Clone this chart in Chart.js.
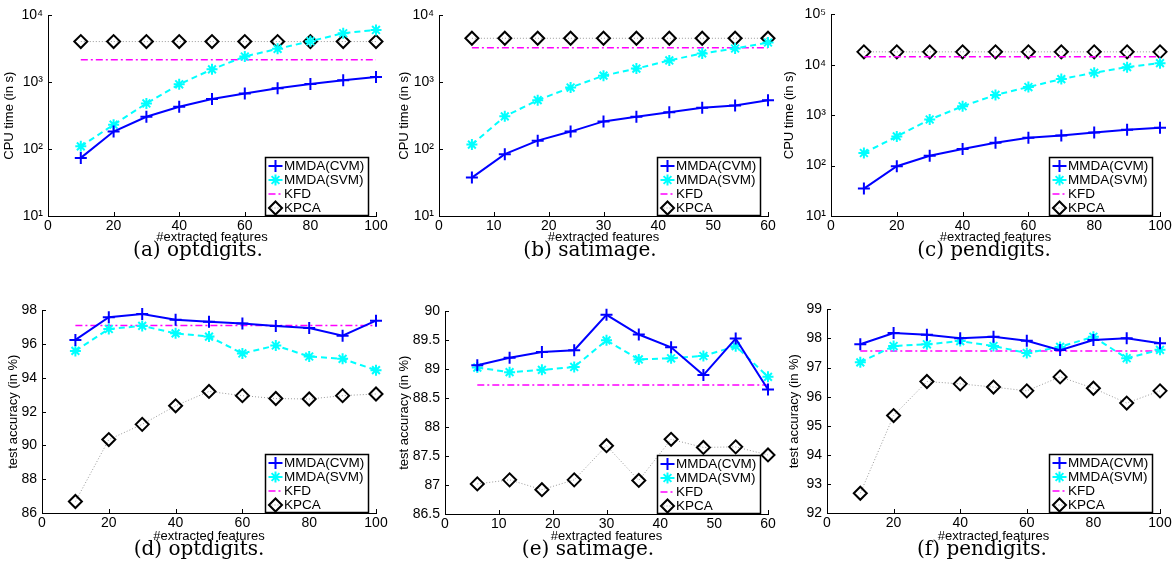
<!DOCTYPE html>
<html>
<head>
<meta charset="utf-8">
<script src="https://cdn.jsdelivr.net/npm/chart.js@4.4.0/dist/chart.umd.min.js"></script>
<style>
  body { margin: 0; background: #fff; width: 1174px; height: 567px; position: relative; overflow: hidden; }
  canvas { position: absolute; }
  .cap { position: absolute; font-family: "DejaVu Serif", serif; font-size: 20px; line-height: 1;
         transform: translate(-50%, -50%); white-space: nowrap; color: #000; }
</style>
</head>
<body>
<script>
'use strict';

// x values (#extracted features)
var featOpt = [10, 20, 30, 40, 50, 60, 70, 80, 90, 100];
var featSat = [6, 12, 18, 24, 30, 36, 42, 48, 54, 60];
var featPen = [10, 20, 30, 40, 50, 60, 70, 80, 90, 100];

// CPU time (in s)
var cpuOptCvm  = [74, 183, 305, 430, 560, 680, 815, 945, 1070, 1200];
var cpuOptSvm  = [110, 232, 482, 933, 1560, 2430, 3160, 4110, 5410, 6060];
var cpuOptKfd  = [2170, 2170, 2170, 2170, 2170, 2170, 2170, 2170, 2170, 2170];
var cpuOptKpca = [4060, 4060, 4060, 4060, 4060, 4060, 4060, 4060, 4060, 4060];

var cpuSatCvm  = [37.5, 84, 134, 183, 260, 305, 355, 416, 450, 540];
var cpuSatSvm  = [117, 309, 540, 834, 1256, 1600, 2120, 2700, 3200, 3930];
var cpuSatKfd  = [3275, 3275, 3275, 3275, 3275, 3275, 3275, 3275, 3275, 3275];
var cpuSatKpca = [4550, 4550, 4550, 4550, 4550, 4550, 4550, 4550, 4550, 4550];

var cpuPenCvm  = [35, 97, 157, 213, 284, 357, 397, 455, 514, 562];
var cpuPenSvm  = [178, 379, 821, 1505, 2520, 3620, 5210, 6950, 8990, 10790];
var cpuPenKfd  = [14380, 14380, 14380, 14380, 14380, 14380, 14380, 14380, 14380, 14380];
var cpuPenKpca = [18070, 18070, 18070, 18070, 18070, 18070, 18070, 18070, 18070, 18070];

// test accuracy (in %)
var accOptCvm  = [96.25, 97.6, 97.78, 97.45, 97.33, 97.23, 97.08, 96.96, 96.5, 97.39];
var accOptSvm  = [95.6, 96.9, 97.08, 96.64, 96.45, 95.45, 95.92, 95.27, 95.13, 94.46];
var accOptKfd  = [97.1, 97.1, 97.1, 97.1, 97.1, 97.1, 97.1, 97.1, 97.1, 97.1];
var accOptKpca = [86.68, 90.35, 91.25, 92.35, 93.2, 92.95, 92.78, 92.75, 92.95, 93.05];

var accSatCvm  = [89.07, 89.2, 89.3, 89.33, 89.94, 89.6, 89.38, 88.9, 89.53, 88.65];
var accSatSvm  = [89.03, 88.95, 88.99, 89.04, 89.5, 89.17, 89.19, 89.23, 89.4, 88.87];
var accSatKfd  = [88.73, 88.73, 88.73, 88.73, 88.73, 88.73, 88.73, 88.73, 88.73, 88.73];
var accSatKpca = [87.02, 87.09, 86.92, 87.09, 87.68, 87.08, 87.79, 87.65, 87.66, 87.52];

var accPenCvm  = [97.8, 98.19, 98.13, 98.01, 98.06, 97.92, 97.6, 97.95, 98.01, 97.84];
var accPenSvm  = [97.18, 97.74, 97.8, 97.91, 97.74, 97.5, 97.71, 98.06, 97.32, 97.61];
var accPenKfd  = [97.57, 97.57, 97.57, 97.57, 97.57, 97.57, 97.57, 97.57, 97.57, 97.57];
var accPenKpca = [92.68, 95.35, 96.52, 96.44, 96.33, 96.2, 96.68, 96.29, 95.78, 96.2];

var seriesNames = ['MMDA(CVM)', 'MMDA(SVM)', 'KFD', 'KPCA'];

var SANS = '"Liberation Sans", Arial, sans-serif';
var SUP = ['\u2070', '\u00b9', '\u00b2', '\u00b3', '\u2074', '\u2075'];

Chart.defaults.font.family = SANS;
Chart.defaults.color = '#000';

// small marker drawing, used for the boxed legend
function drawMarker(ctx, style, x, y, r) {
  ctx.beginPath();
  if (style === 'cross' || style === 'star') {
    ctx.moveTo(x - r, y); ctx.lineTo(x + r, y);
    ctx.moveTo(x, y - r); ctx.lineTo(x, y + r);
    if (style === 'star') {
      var d = r * 0.707;
      ctx.moveTo(x - d, y - d); ctx.lineTo(x + d, y + d);
      ctx.moveTo(x - d, y + d); ctx.lineTo(x + d, y - d);
    }
  } else if (style === 'rectRot') {
    ctx.moveTo(x - r, y); ctx.lineTo(x, y - r); ctx.lineTo(x + r, y); ctx.lineTo(x, y + r);
    ctx.closePath();
  }
  ctx.stroke();
}

// matlab style ticks pointing into the axes
var innerTicks = {
  id: 'innerTicks',
  afterDraw: function (chart) {
    var ctx = chart.ctx, a = chart.chartArea, xs = chart.scales.x, ys = chart.scales.y;
    ctx.save();
    ctx.strokeStyle = '#000';
    ctx.lineWidth = 1;
    ctx.beginPath();
    xs.ticks.forEach(function (t) {
      var px = Math.round(xs.getPixelForValue(t.value)) + 0.5;
      ctx.moveTo(px, a.bottom); ctx.lineTo(px, a.bottom - 4);
    });
    ys.ticks.forEach(function (t) {
      var py = Math.round(ys.getPixelForValue(t.value)) + 0.5;
      ctx.moveTo(a.left, py); ctx.lineTo(a.left + 4, py);
    });
    ctx.stroke();
    ctx.restore();
  }
};

// legend box sitting in the lower right corner of the plot
var boxLegend = {
  id: 'boxLegend',
  afterDraw: function (chart) {
    var ctx = chart.ctx, a = chart.chartArea;
    var w = 103, h = 58;
    var bx = Math.round(a.right - 8 - w) + 0.5, by = Math.round(a.bottom - 1 - h) + 0.5;
    ctx.save();
    ctx.fillStyle = '#fff';
    ctx.fillRect(bx, by, w, h);
    ctx.strokeStyle = '#000';
    ctx.lineWidth = 1.5;
    ctx.strokeRect(bx, by, w, h);
    chart.data.datasets.forEach(function (ds, i) {
      var cy = by + 8.5 + i * 14;
      ctx.strokeStyle = ds.borderColor;
      ctx.lineWidth = ds.borderWidth;
      ctx.setLineDash(ds.borderDash || []);
      ctx.beginPath();
      ctx.moveTo(bx + 3, cy); ctx.lineTo(bx + 17, cy);
      ctx.stroke();
      ctx.setLineDash([]);
      if (ds.pointRadius > 0) {
        ctx.strokeStyle = ds.pointBorderColor;
        ctx.lineWidth = ds.pointBorderWidth;
        drawMarker(ctx, ds.pointStyle, bx + 10, cy, ds.pointRadius);
      }
      ctx.fillStyle = '#000';
      ctx.font = '13.5px ' + SANS;
      ctx.textBaseline = 'middle';
      ctx.textAlign = 'left';
      ctx.fillText(ds.label, bx + 18.5, cy + 0.5);
    });
    ctx.restore();
  }
};

function makeSets(xs, cvm, svm, kfd, kpca) {
  function pts(ys) { return xs.map(function (x, i) { return { x: x, y: ys[i] }; }); }
  return [
    { label: seriesNames[0], data: pts(cvm), borderColor: '#0000ff', borderWidth: 2,
      pointStyle: 'cross', pointRadius: 6, pointBorderWidth: 2, pointBorderColor: '#0000ff' },
    { label: seriesNames[1], data: pts(svm), borderColor: '#00ffff', borderWidth: 2, borderDash: [6, 4],
      pointStyle: 'star', pointRadius: 5.5, pointBorderWidth: 2, pointBorderColor: '#00ffff' },
    { label: seriesNames[2], data: pts(kfd), borderColor: '#ff00ff', borderWidth: 1.5, borderDash: [7, 3, 2, 3],
      pointRadius: 0 },
    { label: seriesNames[3], data: pts(kpca), borderColor: '#999999', borderWidth: 1, borderDash: [1, 2],
      pointStyle: 'rectRot', pointRadius: 6.5, pointBorderWidth: 2, pointBorderColor: '#000',
      pointBackgroundColor: 'rgba(0,0,0,0)' }
  ];
}

// one panel: area = plot area [left, top, right, bottom] in page pixels
function panel(area, titleX, xTitleGap, xAxis, yAxis, yTitle, sets, caption, capPos) {
  var padTop = 12, padRight = 20;
  var left = titleX - 8, top = area[1] - padTop;
  var width = area[2] + padRight - left;
  var height = area[3] + xTitleGap + 8 - top;
  var cv = document.createElement('canvas');
  cv.width = width; cv.height = height;
  cv.style.left = left + 'px'; cv.style.top = top + 'px';
  document.body.appendChild(cv);

  var yWidth = area[0] - left;
  var xHeight = xTitleGap + 8;

  var yScale = {
    type: yAxis.log ? 'logarithmic' : 'linear',
    min: yAxis.min, max: yAxis.max,
    grid: { display: false, drawTicks: false },
    border: { display: true, color: '#000', width: 1 },
    ticks: { font: { size: 14 }, padding: 5, color: '#000' },
    title: { display: true, text: yTitle, font: { size: 13 }, padding: 0, color: '#000' },
    afterFit: function (s) { s.width = yWidth; }
  };
  if (yAxis.log) {
    yScale.afterBuildTicks = function (s) {
      s.ticks = yAxis.ticks.map(function (v) { return { value: v }; });
    };
    yScale.ticks.callback = function (v) { return '10' + SUP[Math.round(Math.log10(v))]; };
  } else {
    yScale.ticks.stepSize = yAxis.step;
    yScale.ticks.callback = function (v) { return String(Math.round(v * 10) / 10); };
  }

  sets.forEach(function (ds) { ds.clip = false; ds.tension = 0; });

  new Chart(cv, {
    type: 'line',
    data: { datasets: sets },
    options: {
      responsive: false,
      animation: false,
      layout: { autoPadding: false, padding: { top: padTop, right: padRight, left: 0, bottom: 0 } },
      plugins: { legend: { display: false }, tooltip: { enabled: false } },
      scales: {
        x: {
          type: 'linear', min: xAxis.min, max: xAxis.max,
          grid: { display: false, drawTicks: false },
          border: { display: true, color: '#000', width: 1 },
          ticks: { stepSize: xAxis.step, font: { size: 14 }, padding: 2, color: '#000', maxRotation: 0 },
          title: { display: true, text: '#extracted features', font: { size: 13 }, padding: 0, color: '#000' },
          afterFit: function (s) { s.height = xHeight; }
        },
        y: yScale
      }
    },
    plugins: [innerTicks, boxLegend]
  });

  var cap = document.createElement('div');
  cap.className = 'cap';
  cap.textContent = caption;
  cap.style.left = capPos[0] + 'px';
  cap.style.top = capPos[1] + 'px';
  document.body.appendChild(cap);
}

var x100 = { min: 0, max: 100, step: 20 };
var x60 = { min: 0, max: 60, step: 10 };

panel([48, 14, 376, 216], 10, 21, x100,
  { log: true, min: 10, max: 10000, ticks: [10, 100, 1000, 10000] }, 'CPU time (in s)',
  makeSets(featOpt, cpuOptCvm, cpuOptSvm, cpuOptKfd, cpuOptKpca), '(a) optdigits.', [198, 249]);

panel([439, 14, 768, 216], 405, 21, x60,
  { log: true, min: 10, max: 10000, ticks: [10, 100, 1000, 10000] }, 'CPU time (in s)',
  makeSets(featSat, cpuSatCvm, cpuSatSvm, cpuSatKfd, cpuSatKpca), '(b) satimage.', [590, 249]);

panel([831, 13, 1160, 216], 790, 21, x100,
  { log: true, min: 10, max: 100000, ticks: [10, 100, 1000, 10000, 100000] }, 'CPU time (in s)',
  makeSets(featPen, cpuPenCvm, cpuPenSvm, cpuPenKfd, cpuPenKpca), '(c) pendigits.', [984, 249]);

panel([42, 309, 376, 513], 14, 23, x100,
  { min: 86, max: 98, step: 2 }, 'test accuracy (in %)',
  makeSets(featOpt, accOptCvm, accOptSvm, accOptKfd, accOptKpca), '(d) optdigits.', [199, 548]);

panel([445, 310, 768, 514], 405, 22, x60,
  { min: 86.5, max: 90, step: 0.5 }, 'test accuracy (in %)',
  makeSets(featSat, accSatCvm, accSatSvm, accSatKfd, accSatKpca), '(e) satimage.', [588, 548]);

panel([827, 308, 1160, 513], 795, 23, x100,
  { min: 92, max: 99, step: 1 }, 'test accuracy (in %)',
  makeSets(featPen, accPenCvm, accPenSvm, accPenKfd, accPenKpca), '(f) pendigits.', [982, 548]);
</script>
</body>
</html>
